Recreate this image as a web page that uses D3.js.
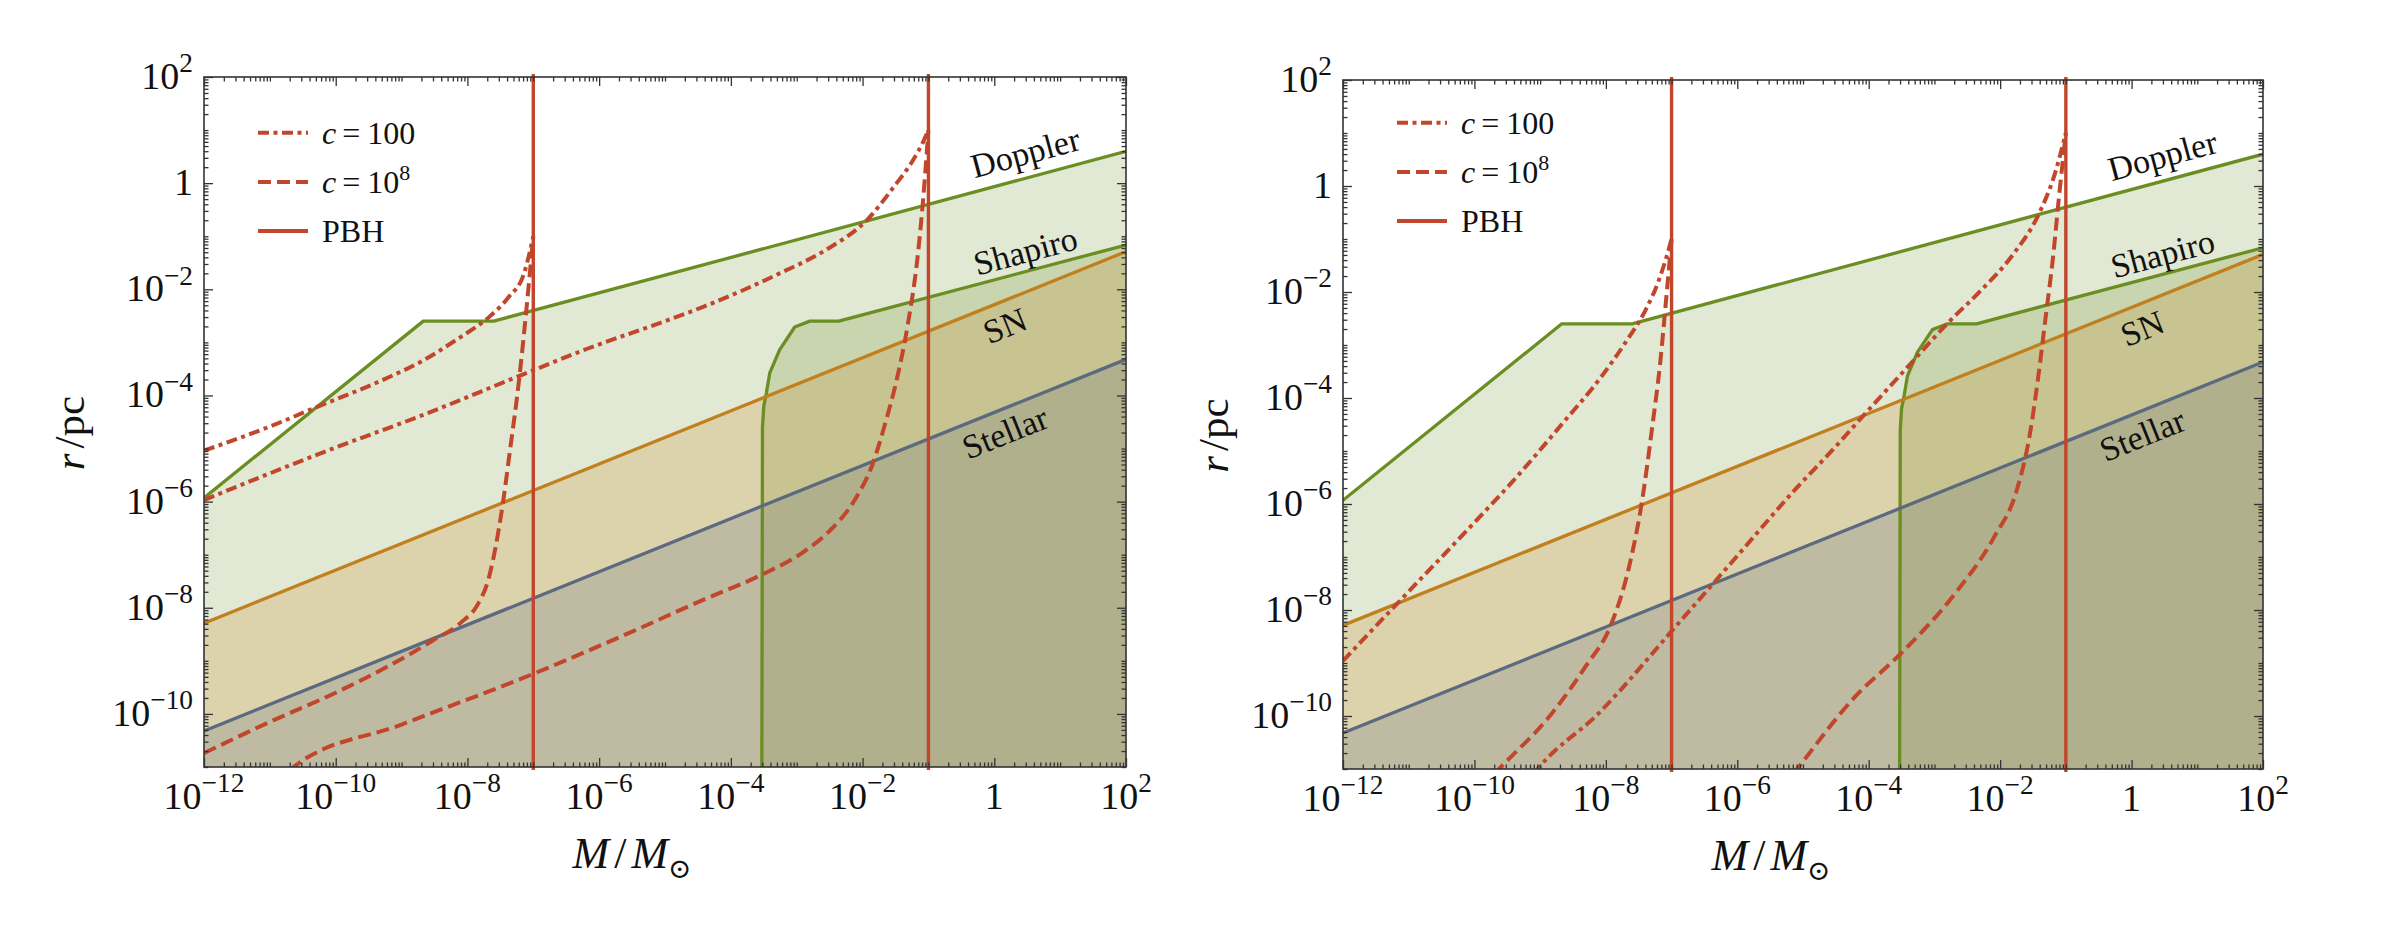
<!DOCTYPE html>
<html>
<head>
<meta charset="utf-8">
<script src="https://cdn.jsdelivr.net/npm/d3@7"></script>
<style>
  html, body { margin: 0; padding: 0; background: #fff; }
  svg { display: block; }
  text { font-family: "Liberation Serif", "Times New Roman", "DejaVu Serif", serif; fill: #111; }
</style>
</head>
<body>
<svg id="chart" width="2396" height="932"></svg>
<script>

// DATA –––––––––––––––––––––––––––––––––––––––––––––––––––––––––––––––––
// every point is [log10(M / Msun), log10(r / pc)]

var massTickExps = [-12, -10, -8, -6, -4, -2, 0, 2];
var radiusTickExps = [2, 0, -2, -4, -6, -8, -10];
var pbhMasses = [1e-7, 1e-1];

var regionNames = ["Doppler", "Shapiro", "SN", "Stellar"];
var dopplerLine = [[-12, -5.93], [-8.67, -2.60], [-7.60, -2.60], [2, 0.60]];
var shapiroLine = [[-3.53, -11.3], [-3.52, -4.6], [-3.50, -4.2], [-3.46, -3.95], [-3.41, -3.58],
                   [-3.26, -3.14], [-3.03, -2.71], [-2.80, -2.60], [-2.36, -2.60], [2, -1.165]];
var snLine = [[-12, -8.29], [2, -1.29]];
var stellarLine = [[-12, -10.32], [2, -3.32]];

var legendNames = ["c = 100", "c = 10^8", "PBH"];

// left panel: one curve per PBH mass (1e-7, 1e-1)
var leftC100 = [
  [[-12, -5.04], [-11.03, -4.60], [-10.27, -4.21], [-9.29, -3.71], [-8.70, -3.36], [-8.13, -2.92],
   [-7.66, -2.51], [-7.37, -2.14], [-7.14, -1.70], [-7.05, -1.28], [-7.0, -1.0]],
  [[-12, -5.97], [-10, -4.98], [-8.70, -4.38], [-7.19, -3.62], [-6.18, -3.12], [-5.0, -2.60],
   [-4.42, -2.33], [-3.26, -1.70], [-2.56, -1.26], [-1.93, -0.69], [-1.52, -0.06], [-1.23, 0.44],
   [-1.08, 0.78], [-1.0, 1.0]]
];
var leftC1e8 = [
  [[-12, -10.74], [-11, -10.15], [-10, -9.6], [-9.2, -9.1], [-8.53, -8.62], [-8.1, -8.28],
   [-7.85, -7.95], [-7.69, -7.5], [-7.47, -6.1], [-7.35, -5.0], [-7.22, -3.75], [-7.13, -2.7],
   [-7.06, -1.8], [-7.0, -1.0]],
  [[-10.9, -11.3], [-10.64, -11.0], [-9.0, -10.2], [-7.01, -9.25], [-5.5, -8.45], [-4.42, -7.85],
   [-3.57, -7.4], [-2.9, -6.95], [-2.5, -6.55], [-2.12, -5.97], [-1.85, -5.3], [-1.65, -4.5],
   [-1.5, -3.8], [-1.31, -2.64], [-1.17, -1.45], [-1.08, -0.3], [-1.03, 0.5], [-1.0, 1.0]]
];

// right panel
var rightC100 = [
  [[-12, -8.96], [-11, -7.65], [-10, -6.35], [-9.4, -5.55], [-8.66, -4.48], [-8.07, -3.60],
   [-7.7, -2.95], [-7.4, -2.35], [-7.2, -1.8], [-7.08, -1.35], [-7.0, -1.0]],
  [[-9.1, -11.1], [-9.05, -11.02], [-8.11, -9.95], [-6.93, -8.3], [-5.98, -6.95], [-5.10, -5.70],
   [-4.55, -4.98], [-4.05, -4.29], [-3.36, -3.35], [-2.80, -2.59], [-2.30, -1.98], [-1.79, -1.27],
   [-1.42, -0.55], [-1.17, 0.22], [-1.0, 1.0]]
];
var rightC1e8 = [
  [[-9.70, -11.1], [-9.64, -11.02], [-8.82, -9.95], [-8.3, -9.05], [-7.93, -8.3], [-7.64, -7.15],
   [-7.45, -5.95], [-7.3, -4.6], [-7.17, -3.3], [-7.08, -2.1], [-7.0, -1.0]],
  [[-5.15, -11.1], [-5.10, -11.02], [-4.21, -9.64], [-3.51, -8.82], [-2.68, -7.68], [-2.09, -6.62],
   [-1.75, -5.75], [-1.55, -4.7], [-1.42, -3.6], [-1.3, -2.4], [-1.2, -1.4], [-1.1, -0.15], [-1.0, 1.0]]
];


// D3 ––––––––––––––––––––––––––––––––––––––––––––––––––––––––––––––––––

var svg = d3.select("#chart");

var red = "#c1462b",
    axisColor = "#333";

var regionStyles = [
  {stroke: "#6b8e23", fill: "rgba(107,142,35,0.2)"},
  {stroke: "#6b8e23", fill: "rgba(107,142,35,0.2)"},
  {stroke: "#c17f1e", fill: "rgba(200,129,26,0.2)"},
  {stroke: "#5c6a80", fill: "rgba(90,104,128,0.22)"}
];
// label placement: mass where the label sits, pixel offset from the line
var labelPlace = [{m: 0.47, dy: -26}, {m: 0.47, dy: -21}, {m: 0.16, dy: 25}, {m: 0.16, dy: 24}];

var panels = [
  {x0: 204, x1: 1126, y0: 77, y1: 767, c100: leftC100, c1e8: leftC1e8, legendY: 132.7, yTitleX: 71},
  {x0: 1343, x1: 2263, y0: 80, y1: 769, c100: rightC100, c1e8: rightC1e8, legendY: 122.7, yTitleX: 1215}
];

var dashed = "13,6",
    dashDot = "11,4.5,4,4.5";

function pow10Label(sel, e, baseSize) {
  if (e === 0) { sel.text("1"); return; }
  sel.append("tspan").text("10");
  sel.append("tspan")
    .attr("dy", -0.44 * baseSize)
    .attr("font-size", baseSize * 0.72)
    .text(e < 0 ? "\u2212" + (-e) : String(e));
}

var draw = function(p, i) {
  var x = d3.scaleLog().domain([1e-12, 1e2]).range([p.x0, p.x1]);
  var y = d3.scaleLog().domain([1e-11, 1e2]).range([p.y1, p.y0]);
  var px = function(d) { return x(Math.pow(10, d[0])); };
  var py = function(d) { return y(Math.pow(10, d[1])); };

  var clipId = "clip" + i;
  svg.append("clipPath").attr("id", clipId)
    .append("rect")
      .attr("x", p.x0).attr("y", p.y0)
      .attr("width", p.x1 - p.x0).attr("height", p.y1 - p.y0);

  var g = svg.append("g").attr("clip-path", "url(#" + clipId + ")");

  var regions = [dopplerLine, shapiroLine, snLine, stellarLine];

  var area = d3.area().x(px).y0(p.y1).y1(py);
  var line = d3.line().x(px).y(py);

  regions.forEach(function(pts, k) {
    g.append("path").datum(pts)
      .attr("fill", regionStyles[k].fill)
      .attr("stroke", "none")
      .attr("d", area);
  });
  regions.forEach(function(pts, k) {
    g.append("path").datum(pts)
      .attr("fill", "none")
      .attr("stroke", regionStyles[k].stroke)
      .attr("stroke-width", 3.3)
      .attr("stroke-linejoin", "round")
      .attr("d", line);
  });

  // region labels, rotated along the last segment of their line
  regions.forEach(function(pts, k) {
    var a = pts[pts.length - 2], b = pts[pts.length - 1];
    var ang = Math.atan2(py(b) - py(a), px(b) - px(a)) * 180 / Math.PI;
    var t = (labelPlace[k].m - a[0]) / (b[0] - a[0]);
    var lr = a[1] + t * (b[1] - a[1]);
    var cx = px([labelPlace[k].m, 0]), cy = py([0, lr]) + labelPlace[k].dy;
    svg.append("text")
      .attr("transform", "translate(" + cx + "," + cy + ") rotate(" + ang + ")")
      .attr("text-anchor", "middle")
      .attr("dy", "0.35em")
      .attr("font-size", 34)
      .text(regionNames[k]);
  });

  // PBH masses
  pbhMasses.forEach(function(m) {
    svg.append("line")
      .attr("x1", x(m)).attr("x2", x(m))
      .attr("y1", p.y0 - 3).attr("y2", p.y1 + 3)
      .attr("stroke", red)
      .attr("stroke-width", 3.4);
  });

  var curve = d3.line().x(px).y(py).curve(d3.curveMonotoneX);
  p.c100.forEach(function(pts) {
    g.append("path").datum(pts)
      .attr("fill", "none").attr("stroke", red).attr("stroke-width", 4)
      .attr("stroke-dasharray", dashDot)
      .attr("d", curve);
  });
  p.c1e8.forEach(function(pts) {
    g.append("path").datum(pts)
      .attr("fill", "none").attr("stroke", red).attr("stroke-width", 4)
      .attr("stroke-dasharray", dashed)
      .attr("d", curve);
  });

  // ticks on all four sides, pointing in
  var majorM = massTickExps.map(function(e) { return Math.pow(10, e); });
  var minorM = [];
  d3.range(-12, 2).forEach(function(e) {
    d3.range(1, 10).forEach(function(k) {
      if (k === 1 && e % 2 === 0) return;
      minorM.push(k * Math.pow(10, e));
    });
  });
  var majorR = radiusTickExps.map(function(e) { return Math.pow(10, e); });
  var minorR = [];
  d3.range(-11, 2).forEach(function(e) {
    d3.range(1, 10).forEach(function(k) {
      if (k === 1 && e % 2 === 0) return;
      minorR.push(k * Math.pow(10, e));
    });
  });

  function tickSet(axis, vals, size, tr) {
    var a = svg.append("g").attr("transform", tr)
      .call(axis.tickValues(vals).tickSize(size).tickFormat(""));
    a.select(".domain").remove();
    a.selectAll("line").attr("stroke", axisColor).attr("stroke-width", 1.3);
  }
  tickSet(d3.axisBottom(x), majorM, -9, "translate(0," + p.y1 + ")");
  tickSet(d3.axisBottom(x), minorM, -4.5, "translate(0," + p.y1 + ")");
  tickSet(d3.axisTop(x), majorM, -9, "translate(0," + p.y0 + ")");
  tickSet(d3.axisTop(x), minorM, -4.5, "translate(0," + p.y0 + ")");
  tickSet(d3.axisLeft(y), majorR, -9, "translate(" + p.x0 + ",0)");
  tickSet(d3.axisLeft(y), minorR, -4.5, "translate(" + p.x0 + ",0)");
  tickSet(d3.axisRight(y), majorR, -9, "translate(" + p.x1 + ",0)");
  tickSet(d3.axisRight(y), minorR, -4.5, "translate(" + p.x1 + ",0)");

  svg.append("rect")
    .attr("x", p.x0).attr("y", p.y0)
    .attr("width", p.x1 - p.x0).attr("height", p.y1 - p.y0)
    .attr("fill", "none").attr("stroke", axisColor).attr("stroke-width", 1.6);

  // tick labels
  massTickExps.forEach(function(e) {
    var t = svg.append("text")
      .attr("x", x(Math.pow(10, e))).attr("y", p.y1 + 42)
      .attr("text-anchor", "middle")
      .attr("font-size", 38);
    pow10Label(t, e, 38);
  });
  radiusTickExps.forEach(function(e) {
    var t = svg.append("text")
      .attr("x", p.x0 - 11).attr("y", y(Math.pow(10, e)) + 12)
      .attr("text-anchor", "end")
      .attr("font-size", 38);
    pow10Label(t, e, 38);
  });

  // axis titles
  var xt = svg.append("text")
    .attr("x", p.x0 + 428).attr("y", p.y1 + 101)
    .attr("text-anchor", "middle")
    .attr("font-size", 44);
  xt.append("tspan").attr("font-style", "italic").text("M");
  xt.append("tspan").attr("dx", 5).text("/");
  xt.append("tspan").attr("dx", 5).attr("font-style", "italic").text("M");
  xt.append("tspan").attr("dy", 10).attr("font-size", 28).text("\u2299");

  var yt = svg.append("text")
    .attr("transform", "translate(" + (p.yTitleX + 13) + "," + ((p.y0 + p.y1) / 2 + 11) + ") rotate(-90)")
    .attr("text-anchor", "middle")
    .attr("font-size", 43);
  yt.append("tspan").attr("font-style", "italic").text("r");
  yt.append("tspan").attr("dx", 5).text("/pc");

  // legend
  var lx = p.x0 + 54;
  legendNames.forEach(function(name, k) {
    var ly = p.legendY + k * 49.2;
    svg.append("line")
      .attr("x1", lx).attr("x2", lx + 50)
      .attr("y1", ly).attr("y2", ly)
      .attr("stroke", red).attr("stroke-width", 4)
      .attr("stroke-dasharray", k === 0 ? dashDot : k === 1 ? dashed : null);
    var t = svg.append("text")
      .attr("x", lx + 64).attr("y", ly + 11)
      .attr("font-size", 32);
    if (k === 2) { t.text(name); return; }
    t.append("tspan").attr("font-style", "italic").text("c");
    t.append("tspan").attr("dx", 6).text("=");
    if (k === 0) t.append("tspan").attr("dx", 7).text("100");
    else {
      t.append("tspan").attr("dx", 7).text("10");
      t.append("tspan").attr("dy", -13).attr("font-size", 22).text("8");
    }
  });
};

panels.forEach(draw);
</script>
</body>
</html>
